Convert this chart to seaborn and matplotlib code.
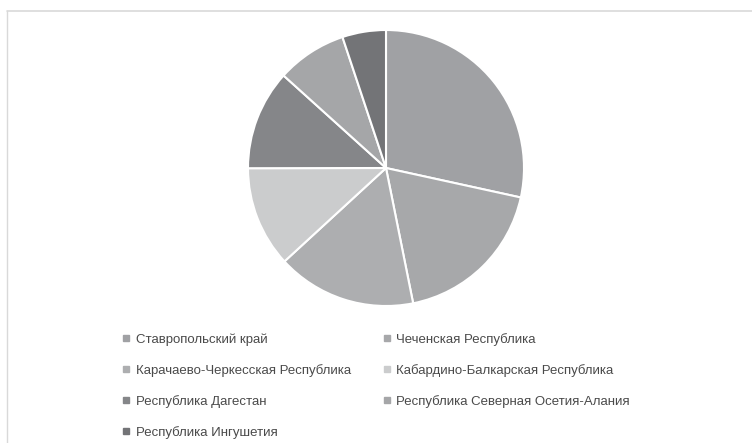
import matplotlib
matplotlib.use("Agg")
import matplotlib.pyplot as plt
from matplotlib.lines import Line2D
import seaborn as sns

regions = ["Ставропольский край", "Чеченская Республика",
           "Карачаево-Черкесская Республика", "Кабардино-Балкарская Республика",
           "Республика Дагестан", "Республика Северная Осетия-Алания",
           "Республика Ингушетия"]
shares = [28.4, 18.4, 16.3, 11.8, 11.7, 8.2, 5.1]
colors = ["#a0a1a4", "#a7a8aa", "#adaeb0", "#cbcccd", "#858689", "#a5a6a8", "#737477"]

sns.set_theme(style="white")
plt.rcParams['font.family'] = ['Liberation Sans', 'DejaVu Sans']

fig = plt.figure(figsize=(7.52, 4.43), dpi=100)
fig.patch.set_facecolor("white")

ax = fig.add_axes([(386 - 138) / 752, (443 - 168 - 138) / 443, 276 / 752, 276 / 443])
ax.pie(shares, colors=colors, startangle=90, counterclock=False, radius=1.0,
       wedgeprops=dict(edgecolor="white", linewidth=1.5))
ax.set_xlim(-1.0, 1.0)
ax.set_ylim(-1.0, 1.0)
ax.set_aspect("equal")
ax.axis("off")

# frame lines (top and left)
fig.add_artist(Line2D([7 / 752, 1.0], [1 - 10.5 / 443, 1 - 10.5 / 443], color="#d9d9d9", lw=1.2))
fig.add_artist(Line2D([7 / 752, 7 / 752], [0, 1 - 10.5 / 443], color="#d9d9d9", lw=1.0))

handles = [Line2D([0], [0], marker="s", linestyle="none", markersize=5,
                  markerfacecolor=c, markeredgecolor=c) for c in colors]
order = [0, 2, 4, 6, 1, 3, 5]
leg = fig.legend([handles[i] for i in order], [regions[i] for i in order],
                 ncol=2, loc="upper left", bbox_to_anchor=(122 / 752, 1 - 333 / 443),
                 frameon=False, fontsize=9.5, handlelength=0.6, handletextpad=0.45,
                 columnspacing=2.4, labelspacing=1.37, borderaxespad=0, borderpad=0)
for t in leg.get_texts():
    t.set_color("#4a4a4a")

fig.savefig("out.png", dpi=100, facecolor="white")
